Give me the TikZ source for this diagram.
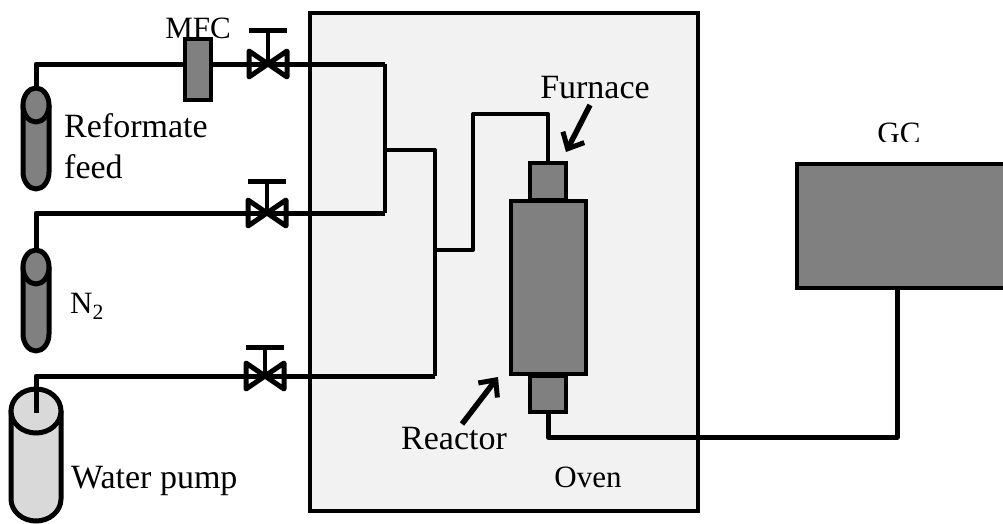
\documentclass[tikz,border=0pt]{standalone}
\usepackage{fontspec}
\setmainfont{Liberation Serif}
\usetikzlibrary{arrows.meta}
\definecolor{ovengray}{HTML}{F2F2F2}
\definecolor{partgray}{HTML}{808080}
\definecolor{pumpgray}{HTML}{D9D9D9}
\tikzset{
  pipe/.style={line width=5pt,line join=round},
  thinpipe/.style={line width=4pt,line join=round},
  part/.style={draw,line width=4pt,fill=partgray,inner sep=0pt,outer sep=0pt},
  pointer/.style={line width=5.5pt,-{Straight Barb[length=13pt,width=24pt,line width=5pt]}},
  label/.style={inner sep=0pt,font=\fontsize{34}{34}\selectfont},
  smalllabel/.style={inner sep=0pt,font=\fontsize{31}{31}\selectfont}
}

\begin{document}
\begin{tikzpicture}[x=1pt,y=-1pt]
      \useasboundingbox (0,0) rectangle (1003,523);
      \node[draw,line width=4pt,fill=ovengray,minimum width=388pt,minimum height=498pt,inner sep=0pt] (oven) at (504,262) {};

      % labels under the parts
      \node[smalllabel] (mfclabel) at (198,28) {MFC};
      \node[label,anchor=west] (reformate) at (64,126) {Reformate};
      \node[label,anchor=west] (feed) at (64,167) {feed};
      \node[smalllabel,anchor=west] (nitrogen) at (70,306) {N\textsubscript{2}};
      \node[label,anchor=west] (waterpump) at (71,481) {Water pump};
      \node[label] (furnace) at (595,88) {Furnace};
      \node[label] (reactor) at (454,439) {Reactor};
      \node[smalllabel] (ovenlabel) at (588,477) {Oven};
      \begin{scope}
        \clip (860,118) rectangle (940,141);
        \node[smalllabel] (gclabel) at (899,133) {GC};
      \end{scope}

      % tanks: x, top, bottom, half width, cap depth, fill
      \foreach \x/\ytop/\ybot/\rx/\ry/\col in {36/88/189/13/17/partgray,36/250/351/13/17/partgray,36/389/521/25/22/pumpgray} {
        \draw[pipe,fill=\col] (\x-\rx,\ytop+\ry) -- (\x-\rx,\ybot-\ry)
          .. controls (\x-\rx,\ybot-.45*\ry) and (\x-.55*\rx,\ybot) .. (\x,\ybot)
          .. controls (\x+.55*\rx,\ybot) and (\x+\rx,\ybot-.45*\ry) .. (\x+\rx,\ybot-\ry)
          -- (\x+\rx,\ytop+\ry) -- cycle;
        \draw[pipe,fill=\col] (\x,\ytop+\ry) ellipse [x radius=\rx,y radius=\ry];
      }

      \coordinate (feedtop) at (36,88);
      \coordinate (nitrogentop) at (36,250);
      \coordinate (pumpdip) at (36,413);
      \coordinate (feedjoin) at (385,64);
      \coordinate (nitrogenjoin) at (385,213);
      \coordinate (feedout) at (385,150);
      \coordinate (mixjoin) at (435,150);
      \coordinate (pumpjoin) at (435,376);
      \coordinate (mixout) at (435,250);
      \coordinate (riser) at (473,250);
      \coordinate (riserheader) at (473,114);
      \coordinate (gcdrop) at (548,437);

      % valves: x, line y, bar y
      \foreach \x/\y/\ybar/\name in {268/64/30/feed,267/213/181/nitrogen,265/376/347/pump} {
        \coordinate (\name valve) at (\x,\y);
        \draw[thinpipe] (\x,\y) -- (\x,\ybar);
        \draw[pipe] (\x-19,\ybar) -- (\x+19,\ybar);
        \draw[pipe] (\x-19,\y-13) -- (\x+19,\y+13) -- (\x+19,\y-13) -- (\x-19,\y+13) -- cycle;
      }

      \draw[pipe] (feedtop) |- (feedvalve) -- (feedjoin);
      \draw[pipe] (nitrogentop) |- (nitrogenvalve) -- (nitrogenjoin);
      \draw[pipe] (pumpdip) |- (pumpvalve) -- (pumpjoin);
      \draw[thinpipe] (feedjoin) -- (nitrogenjoin);
      \draw[thinpipe] (pumpjoin) -- (mixjoin) -- (feedout);

      \node[part,minimum width=26pt,minimum height=61pt] (mfc) at (198,69.5) {};

      \node[part,minimum width=36pt,minimum height=37pt] (topcap) at (548,181.5) {};
      \node[part,minimum width=36pt,minimum height=36pt] (bottomcap) at (548,394) {};
      \node[part,minimum width=75pt,minimum height=173pt] (body) at (548.5,287.5) {};
      \draw[thinpipe] (mixout) -- (riser) -- (riserheader) -| (topcap.north);

      \draw[part] (1010,164) -- (797,164) -- (797,288) -- (1010,288);
      \coordinate (gcin) at (897,288);
      \draw[pipe] (bottomcap.south) |- (gcdrop) -| (gcin);

      \coordinate (furnacetail) at (590,105);
      \coordinate (furnacetip) at (566,152);
      \coordinate (reactortail) at (462,424);
      \coordinate (reactortip) at (498,377);
      \draw[pointer] (furnacetail) -- (furnacetip);
      \draw[pointer] (reactortail) -- (reactortip);
    \end{tikzpicture}
\end{document}
